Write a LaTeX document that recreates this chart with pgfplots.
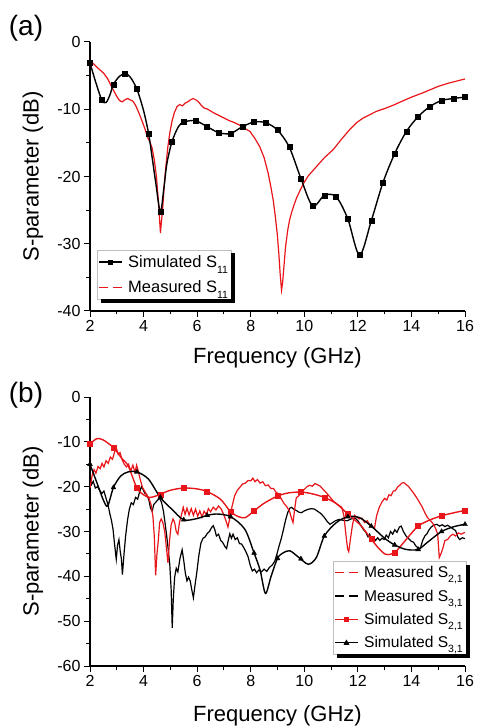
\documentclass[border=0pt]{standalone}
\usepackage{fontspec}
\setmainfont{Liberation Sans}
\usepackage{pgfplots}
\pgfplotsset{compat=1.18}

\definecolor{sred}{RGB}{232,22,26}
% port-index subscript, set low and small
\newcommand\portsub[2]{\raisebox{-#2}{\fontsize{10.5}{10.5}\selectfont #1}}
% solid shadow along the right and bottom edges of a legend box
\newcommand\legshadow[1]{%
  \fill[black] ([yshift=-3.5pt]#1.north east) rectangle ([xshift=3.5pt,yshift=-3.5pt]#1.south east);
  \fill[black] ([xshift=3.5pt]#1.south west) rectangle ([xshift=3.5pt,yshift=-3.5pt]#1.south east);}

\pgfplotsset{
  sparam/.style={
    scale only axis, width=375pt, height=269pt,
    xmin=2, xmax=16, xtick={2,4,...,16},
    minor x tick num=1, minor y tick num=1,
    axis x line*=bottom, axis y line*=left,
    tick align=outside,
    major tick length=6pt, minor tick length=3.5pt,
    every tick/.style={black, line width=1pt},
    axis line style={line width=1.1pt},
    tick label style={font=\fontsize{16}{18}\selectfont},
    /pgf/number format/assume math mode=true,
    xlabel={Frequency (GHz)}, ylabel={S-parameter (dB)},
    every axis y label/.style={at={(axis description cs:-0.152,0.5)}, anchor=center, rotate=90, font=\fontsize{22}{24}\selectfont},
    legend cell align=left,
  },
  boxlegend/.style 2 args={
    legend style={font=\fontsize{#1}{#1}\selectfont, draw=black!25, line width=0.6pt, fill=white,
      inner xsep=1pt, inner ysep=3pt, row sep=#2,
      /tikz/every odd column/.append style={column sep=3.5pt}},
  },
  simline/.style={line width=1.4pt, smooth, tension=0.5, mark=none, forget plot},
  measline/.style={line width=1.2pt, sharp plot, mark=none, forget plot},
}

\begin{document}
\begin{tikzpicture}
\useasboundingbox (0,0) rectangle (477pt,728pt);

\node[font=\fontsize{28}{28}\selectfont] at (26pt,700pt) {(a)};
\node[font=\fontsize{28}{28}\selectfont] at (26pt,333pt) {(b)};

% ---------------- (a) reflection ----------------
\begin{axis}[sparam, at={(90pt,417pt)}, anchor=south west,
  ymin=-40, ymax=0, ytick={-40,-30,...,0},
  every axis x label/.style={at={(axis description cs:0.5,-0.175)}, anchor=center, font=\fontsize{22}{24}\selectfont},
  boxlegend={16.5}{8pt},
  legend style={at={(0.019,0.227)}, anchor=north west, name=legA},
]
\addlegendimage{legend image code/.code={\draw[black,line width=1.3pt] (0pt,0pt)--(23pt,0pt);
  \fill[black] (11.5pt,0pt) +(-2pt,-2pt) rectangle +(2pt,2pt);}}
\addlegendentry{Simulated S\portsub{11}{6pt}}
\addlegendimage{legend image code/.code={\draw[sred,line width=1.3pt,dash pattern=on 9pt off 5pt] (0pt,0pt)--(23pt,0pt);}}
\addlegendentry{Measured S\portsub{11}{6pt}}

% measured S11
\addplot[sred, measline] table {
2.00 -2.9
2.15 -3.3
2.30 -3.9
2.50 -4.6
2.65 -5.4
2.80 -6.6
3.00 -8.1
3.10 -8.7
3.20 -8.9
3.30 -8.6
3.40 -8.4
3.50 -8.6
3.60 -8.8
3.70 -9.4
3.80 -10.3
3.93 -11.6
4.05 -12.9
4.15 -14.2
4.25 -15.0
4.32 -15.8
4.40 -17.5
4.48 -20.0
4.55 -23.5
4.60 -26.5
4.63 -28.4
4.66 -27.0
4.71 -25.0
4.76 -22.0
4.82 -19.0
4.90 -15.8
4.98 -13.5
5.06 -11.8
5.15 -10.5
5.25 -9.6
5.35 -9.3
5.45 -9.5
5.55 -9.1
5.65 -8.9
5.75 -8.6
5.85 -8.4
5.95 -8.6
6.05 -8.9
6.15 -9.4
6.25 -9.8
6.40 -10.0
6.60 -10.5
6.80 -10.9
7.00 -11.3
7.20 -11.7
7.40 -12.0
7.60 -12.4
7.80 -12.9
7.97 -13.3
8.15 -14.3
8.34 -15.6
8.50 -17.2
8.65 -19.5
8.75 -21.5
8.84 -23.5
8.92 -26.0
8.99 -28.5
9.05 -31.5
9.10 -34.5
9.15 -36.9
9.19 -35.8
9.24 -33.4
9.30 -30.5
9.38 -28.0
9.45 -26.5
9.53 -25.3
9.62 -24.2
9.71 -23.2
9.85 -22.0
9.96 -21.1
10.15 -19.9
10.46 -18.5
10.75 -17.2
11.08 -16.0
11.40 -14.4
11.70 -13.0
11.95 -12.0
12.20 -11.3
12.45 -10.8
12.70 -10.3
13.00 -9.9
13.32 -9.4
13.60 -8.9
14.00 -8.2
14.40 -7.6
14.70 -7.1
15.00 -6.6
15.40 -6.1
15.70 -5.8
16.00 -5.5
};

% simulated S11, curve
\addplot[black, simline] table {
2.0 -3.1
2.2 -5.8
2.4375 -8.6
2.6 -9.0
2.75 -7.8
2.875 -6.3
3.1 -5.1
3.3125 -4.7
3.5 -5.2
3.75 -7.0
4.0 -10.2
4.1875 -13.6
4.3 -16.6
4.45 -20.8
4.625 -25.3
4.75 -22.0
4.87 -18.1
5.0625 -14.8
5.3 -12.6
5.5 -11.9
5.9375 -11.7
6.375 -12.6
6.8125 -13.5
7.25 -13.6
7.6875 -12.6
8.125 -11.9
8.5625 -12.0
9.0 -13.1
9.4375 -15.6
9.875 -20.3
10.3125 -24.4
10.75 -22.8
11.1875 -23.0
11.625 -26.3
12.0625 -31.7
12.5 -26.6
12.9375 -20.9
13.375 -16.6
13.8125 -13.3
14.25 -11.1
14.6875 -9.6
15.125 -8.7
15.5625 -8.4
16 -8.2
};
% simulated S11, sample points
\addplot[black, only marks, mark=square*, mark size=2.5pt, forget plot] table {
2.0 -3.1
2.4375 -8.6
2.875 -6.3
3.3125 -4.7
3.75 -7.0
4.1875 -13.6
4.625 -25.3
5.0625 -14.8
5.5 -11.9
5.9375 -11.7
6.375 -12.6
6.8125 -13.5
7.25 -13.6
7.6875 -12.6
8.125 -11.9
8.5625 -12.0
9.0 -13.1
9.4375 -15.6
9.875 -20.3
10.3125 -24.4
10.75 -22.8
11.1875 -23.0
11.625 -26.3
12.0625 -31.7
12.5 -26.6
12.9375 -20.9
13.375 -16.6
13.8125 -13.3
14.25 -11.1
14.6875 -9.6
15.125 -8.7
15.5625 -8.4
16 -8.2
};
\end{axis}
\legshadow{legA}

% ---------------- (b) transmission ----------------
\begin{axis}[sparam, at={(90pt,62pt)}, anchor=south west,
  ymin=-60, ymax=0, ytick={-60,-50,...,0},
  every axis x label/.style={at={(axis description cs:0.5,-0.186)}, anchor=center, font=\fontsize{22}{24}\selectfont},
  boxlegend={15.6}{6.5pt},
  legend style={at={(0.648,0.390)}, anchor=north west, name=legB},
]
\addlegendimage{legend image code/.code={\draw[sred,line width=1.3pt,dash pattern=on 9pt off 5pt] (0pt,0pt)--(23pt,0pt);}}
\addlegendentry{Measured S\portsub{2,1}{5pt}}
\addlegendimage{legend image code/.code={\draw[black,line width=1.3pt,dash pattern=on 9pt off 5pt] (0pt,0pt)--(23pt,0pt);}}
\addlegendentry{Measured S\portsub{3,1}{5pt}}
\addlegendimage{legend image code/.code={\draw[sred,line width=1.3pt] (0pt,0pt)--(23pt,0pt);
  \fill[sred] (11.5pt,0pt) +(-2pt,-2pt) rectangle +(2pt,2pt);}}
\addlegendentry{Simulated S\portsub{2,1}{5pt}}
\addlegendimage{legend image code/.code={\draw[black,line width=1.3pt] (0pt,0pt)--(23pt,0pt);
  \fill[black] (11.5pt,2.6pt) -- (9.1pt,-1.8pt) -- (13.9pt,-1.8pt) -- cycle;}}
\addlegendentry{Simulated S\portsub{3,1}{5pt}}

% measured S31
\addplot[black, measline] table {
2.00 -17.3
2.06 -19.5
2.12 -18.8
2.20 -20.3
2.28 -20.0
2.36 -20.8
2.44 -21.5
2.52 -21.0
2.60 -22.6
2.67 -24.0
2.74 -26.0
2.80 -27.5
2.86 -29.5
2.92 -33.0
2.98 -36.2
3.03 -33.0
3.08 -31.8
3.13 -34.5
3.17 -36.0
3.21 -39.6
3.27 -35.0
3.33 -31.0
3.40 -27.5
3.47 -25.0
3.54 -23.6
3.62 -24.0
3.70 -22.4
3.78 -22.8
3.86 -21.0
3.92 -20.0
3.98 -20.6
4.04 -21.4
4.12 -21.8
4.20 -23.0
4.26 -24.8
4.32 -25.5
4.38 -24.0
4.45 -23.5
4.52 -23.0
4.60 -22.6
4.67 -23.5
4.74 -25.4
4.80 -28.0
4.86 -30.8
4.92 -34.0
4.98 -37.5
5.03 -43.0
5.07 -51.5
5.11 -45.0
5.16 -40.2
5.22 -38.2
5.28 -39.0
5.36 -36.0
5.44 -34.1
5.50 -36.5
5.56 -39.3
5.62 -41.0
5.68 -40.2
5.74 -41.0
5.80 -43.0
5.86 -44.8
5.92 -42.0
5.99 -39.0
6.06 -35.5
6.14 -32.6
6.22 -31.5
6.30 -31.2
6.38 -30.4
6.46 -30.0
6.54 -29.1
6.60 -28.7
6.66 -29.6
6.72 -31.0
6.80 -30.6
6.88 -32.0
6.96 -32.5
7.04 -33.4
7.10 -33.8
7.16 -32.0
7.22 -30.5
7.28 -31.5
7.34 -30.6
7.42 -31.8
7.50 -31.4
7.58 -32.7
7.66 -32.8
7.74 -33.6
7.82 -34.5
7.90 -35.6
7.98 -37.5
8.06 -38.8
8.14 -38.4
8.22 -39.2
8.30 -38.6
8.40 -39.0
8.50 -38.4
8.60 -38.9
8.70 -38.0
8.80 -37.5
8.90 -36.6
8.98 -35.0
9.06 -33.2
9.14 -31.6
9.22 -29.6
9.30 -27.5
9.38 -25.8
9.46 -24.8
9.52 -24.6
9.60 -25.0
9.70 -25.3
9.80 -25.7
9.90 -25.8
10.00 -25.4
10.12 -25.1
10.25 -24.9
10.38 -25.0
10.50 -25.5
10.62 -26.0
10.74 -26.8
10.86 -27.8
10.96 -28.4
11.06 -28.0
11.16 -27.6
11.30 -27.3
11.45 -27.5
11.60 -27.6
11.75 -27.2
11.90 -27.0
12.00 -27.6
12.10 -28.5
12.20 -29.5
12.30 -30.2
12.38 -31.2
12.44 -30.6
12.50 -31.8
12.58 -31.3
12.66 -32.0
12.74 -31.4
12.82 -32.0
12.90 -31.5
12.98 -31.8
13.06 -30.8
13.14 -31.4
13.22 -30.0
13.30 -30.6
13.38 -29.6
13.46 -30.2
13.55 -29.0
13.62 -28.8
13.70 -30.0
13.80 -31.0
13.90 -31.6
14.00 -32.2
14.08 -32.4
14.16 -33.2
14.24 -33.6
14.33 -33.8
14.42 -32.0
14.50 -31.0
14.58 -30.5
14.66 -29.6
14.74 -29.0
14.83 -28.6
14.95 -28.4
15.05 -28.8
15.15 -28.5
15.25 -28.9
15.35 -28.6
15.45 -29.0
15.55 -29.4
15.65 -29.8
15.73 -31.2
15.80 -31.8
15.90 -31.4
16.00 -31.6
};

% measured S21
\addplot[sred, measline] table {
2.00 -20.3
2.08 -17.5
2.15 -16.2
2.22 -17.0
2.30 -15.5
2.38 -16.0
2.45 -14.8
2.52 -15.6
2.60 -14.2
2.68 -14.8
2.76 -13.4
2.84 -13.9
2.92 -12.2
2.98 -11.3
3.05 -12.8
3.12 -12.4
3.20 -14.0
3.28 -15.0
3.36 -15.6
3.44 -15.0
3.52 -16.5
3.60 -15.2
3.68 -16.8
3.74 -15.2
3.80 -16.5
3.88 -18.5
3.96 -20.2
4.04 -21.0
4.12 -21.8
4.20 -22.6
4.28 -24.0
4.35 -26.7
4.40 -31.0
4.45 -39.8
4.50 -35.0
4.55 -32.0
4.60 -28.0
4.66 -27.2
4.72 -28.0
4.79 -30.0
4.85 -33.5
4.91 -37.0
4.97 -32.0
5.03 -28.5
5.10 -27.2
5.16 -28.0
5.22 -30.0
5.28 -30.6
5.34 -28.0
5.41 -26.4
5.48 -24.6
5.55 -26.2
5.62 -24.8
5.70 -26.3
5.78 -24.9
5.86 -26.4
5.94 -25.0
6.02 -26.6
6.10 -25.4
6.18 -26.8
6.26 -25.5
6.34 -26.2
6.42 -24.9
6.50 -25.6
6.60 -24.6
6.70 -25.2
6.80 -24.3
6.90 -25.0
6.99 -26.2
7.07 -27.5
7.15 -29.0
7.22 -27.0
7.30 -24.5
7.40 -22.0
7.50 -20.8
7.60 -20.1
7.70 -19.4
7.80 -19.2
7.90 -18.6
8.00 -18.7
8.08 -18.1
8.16 -18.9
8.25 -18.4
8.35 -19.2
8.45 -18.9
8.55 -19.8
8.65 -19.6
8.75 -20.4
8.85 -20.4
8.95 -21.3
9.05 -21.6
9.15 -22.8
9.25 -23.8
9.35 -24.5
9.45 -25.5
9.52 -27.0
9.58 -28.0
9.64 -25.0
9.70 -22.5
9.80 -22.0
9.90 -21.0
10.00 -20.6
10.10 -20.0
10.20 -19.7
10.30 -19.9
10.40 -19.3
10.50 -19.6
10.60 -19.9
10.70 -20.6
10.80 -21.2
10.90 -21.9
11.00 -22.6
11.10 -23.3
11.20 -23.8
11.30 -24.2
11.40 -24.6
11.48 -26.5
11.55 -30.5
11.62 -34.0
11.66 -34.5
11.72 -31.8
11.80 -28.5
11.88 -26.4
11.96 -26.8
12.05 -27.2
12.15 -27.0
12.25 -28.0
12.35 -27.6
12.45 -28.5
12.55 -29.0
12.62 -29.3
12.70 -26.5
12.80 -24.6
12.90 -23.4
13.00 -22.6
13.08 -23.0
13.16 -21.8
13.24 -22.0
13.32 -21.0
13.40 -20.9
13.48 -20.1
13.56 -19.7
13.64 -19.2
13.72 -19.1
13.80 -19.5
13.90 -20.0
14.00 -20.8
14.10 -21.6
14.20 -22.5
14.30 -23.5
14.40 -24.5
14.50 -25.8
14.60 -26.9
14.70 -27.5
14.80 -28.2
14.90 -29.3
14.98 -30.6
15.04 -35.8
15.10 -35.0
15.17 -33.8
15.25 -32.0
15.35 -31.8
15.45 -31.0
15.55 -30.6
15.65 -31.0
15.75 -30.3
15.85 -30.6
16.00 -30.2
};

% simulated S21
\addplot[sred, simline] table {
2.000 -10.5
2.250 -9.3
2.500 -9.6
2.875 -11.3
3.200 -13.8
3.430 -15.4
3.750 -20.3
4.000 -21.8
4.200 -22.4
4.400 -22.2
4.625 -21.7
5.000 -20.8
5.500 -20.3
6.000 -20.5
6.375 -21.1
6.870 -22.8
7.250 -25.6
7.550 -26.7
7.800 -26.9
8.125 -25.4
8.500 -23.7
9.000 -22.1
9.400 -21.4
9.875 -21.2
10.300 -21.6
10.750 -22.4
11.200 -23.8
11.625 -26.1
12.100 -28.6
12.500 -31.7
12.800 -33.9
13.050 -35.1
13.375 -34.7
13.800 -31.8
14.250 -28.8
14.700 -27.4
15.125 -26.5
15.600 -25.8
16.000 -25.3
};
\addplot[sred, only marks, mark=square*, mark size=2.5pt, forget plot] table {
2.0 -10.5
2.875 -11.3
3.75 -20.3
4.625 -21.7
5.5 -20.3
6.375 -21.1
7.25 -25.6
8.125 -25.4
9.0 -22.1
9.875 -21.2
10.75 -22.4
11.625 -26.1
12.5 -31.7
13.375 -34.7
14.25 -28.8
15.125 -26.5
16 -25.3
};

% simulated S31
\addplot[black, simline] table {
2.000 -15.0
2.300 -19.8
2.500 -23.0
2.660 -24.3
2.875 -20.2
3.150 -17.6
3.430 -16.7
3.750 -16.7
4.180 -18.3
4.625 -22.4
5.050 -25.0
5.500 -27.4
6.000 -27.1
6.375 -26.4
6.750 -26.1
7.250 -26.7
7.780 -29.5
8.125 -34.8
8.350 -38.6
8.550 -43.8
8.760 -40.0
9.000 -36.0
9.200 -34.8
9.460 -34.3
9.800 -35.8
10.150 -37.3
10.450 -35.8
10.750 -31.0
11.200 -28.0
11.625 -26.7
12.060 -26.9
12.500 -28.8
13.000 -31.5
13.375 -33.0
13.800 -34.0
14.250 -34.0
14.600 -32.4
15.125 -30.0
15.600 -28.9
16.000 -28.4
};
\addplot[black, only marks, mark=triangle*, mark size=2.8pt, forget plot] table {
2.0 -15.0
2.875 -20.2
3.75 -16.7
4.625 -22.4
5.5 -27.4
6.375 -26.4
7.25 -26.7
8.125 -34.8
9.0 -36.0
9.875 -36.1
10.75 -31.0
11.625 -26.7
12.5 -28.8
13.375 -33.0
14.25 -34.0
15.125 -30.0
16 -28.4
};
\end{axis}
\legshadow{legB}
\end{tikzpicture}
\end{document}
